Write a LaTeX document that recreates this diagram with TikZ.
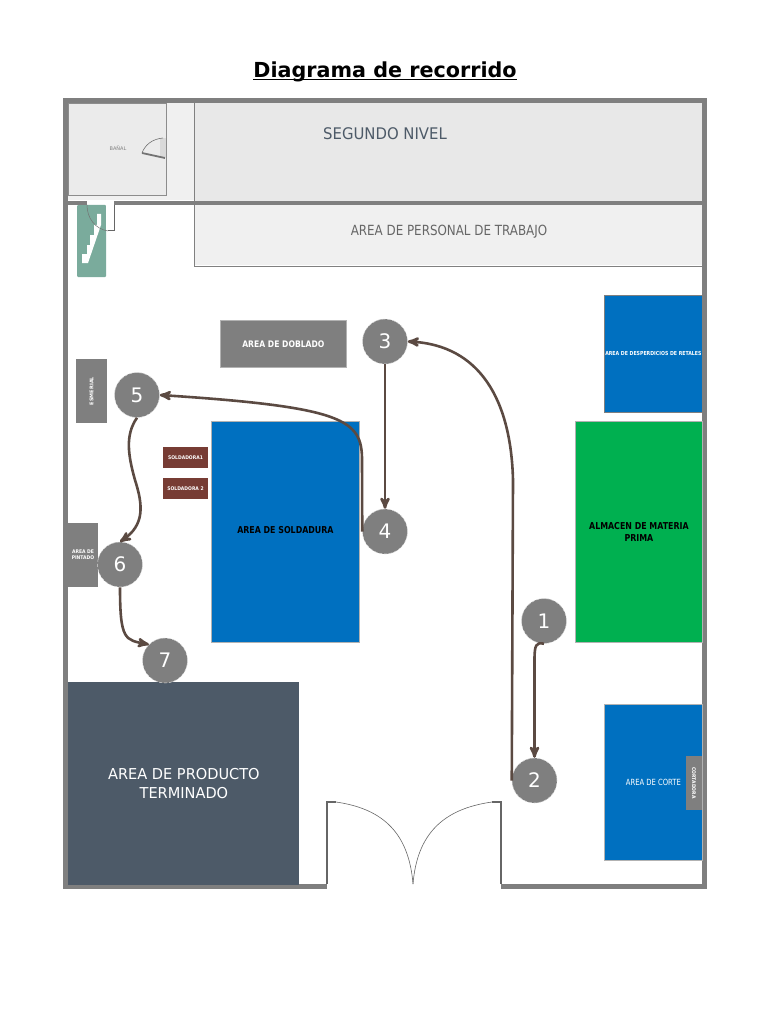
\documentclass[tikz,border=0pt]{standalone}
\usepackage{fontspec}
\setmainfont{DejaVu Sans}
\usetikzlibrary{ arrows, calc, positioning }
\definecolor{wallgray}{HTML}{7F7F7F}
\definecolor{roomblue}{HTML}{0070C0}
\definecolor{roomgreen}{HTML}{00B050}
\definecolor{slategray}{HTML}{4D5A68}
\definecolor{pathbrown}{HTML}{5B4A42}
\definecolor{weldbrown}{HTML}{773C34}
\definecolor{stairgreen}{HTML}{7AAB9C}
\tikzset{
>=stealth', % bold arrow heads
every node/.style={inner sep=1pt, align=center},
wall/.style={fill=wallgray, draw=none},
room/.style={draw=wallgray, line width=0.8pt, anchor=north west},
stop/.style={circle, fill=wallgray, draw=white!85!black, densely dashed, line width=0.5pt, minimum size=45pt, text=white, font=\fontsize{20}{20}\selectfont},
route/.style={->, draw=pathbrown, line width=2.6pt},
machine/.style={fill=wallgray, draw=none, text=white},
small/.style={font=\fontsize{5}{6}\selectfont\bfseries, text=white},
}
\newcommand{\squeezed}[2]{\scalebox{#1}[1]{#2}}
\begin{document}
\begin{tikzpicture}[x=1pt,y=-1pt]
  \useasboundingbox (0,0) rectangle (768,1024);

  \node[anchor=base] (title) at (385,78) {\fontsize{20.7}{24}\selectfont\textbf{\underline{\smash{Diagrama de recorrido}}}};

  % upper floor
  \fill[black!6] (68,103) rectangle (702,200);
  \fill[black!9] (194,103) rectangle (702,201);
  \node[room, fill=black!8, minimum width=98pt, minimum height=92pt, inner sep=0pt, draw=black!45] (bath) at (68,103) {};
  \node[font=\fontsize{5}{6}\selectfont, text=black!50] (bathlabel) at (118,148) {BAÑAL};
  \draw[black!50, line width=0.8pt] (194,103) -- (194,266) -- (702,266);
  \fill[black!6] (195,205) rectangle (702,265);
  \node[text=slategray] (upper) at (385,134) {\fontsize{16}{18}\selectfont\squeezed{0.93}{SEGUNDO NIVEL}};
  \node[text=black!60] (staff) at (449,232) {\fontsize{14}{16}\selectfont\squeezed{0.85}{AREA DE PERSONAL DE TRABAJO}};

  % small door upstairs
  \fill[black!15] (160,138) rectangle (166,157);
  \draw[black!55, line width=0.6pt] (163,138) .. controls (152,139) and (145,145) .. (142,153);
  \draw[black!55, line width=1.8pt] (142,153) -- (165,158);

  % stairs
  \fill[stairgreen, rounded corners=1pt] (77,205) rectangle (106,277);
  \fill[white] (97,214) -- (101,214) -- (101,225) -- (88,263) -- (82,263) -- (82,254) -- (87,254) -- (87,245) -- (90,245) -- (90,235) -- (94,235) -- (94,225) -- (97,225) -- cycle;
  \fill[white] (106,205) rectangle (114,231);
  \draw[black!55, line width=0.5pt] (87,205) .. controls (87,218) and (95,229) .. (108,231);
  \draw[black!60, line width=1pt] (108,231) -- (114,231) -- (114,204);

  % outer walls
  \fill[wall] (63,98) rectangle (707,103);
  \fill[wall] (63,98) rectangle (68,889);
  \fill[wall] (702,98) rectangle (707,889);
  \fill[wall] (63,884) rectangle (327,889);
  \fill[wall] (501,884) rectangle (707,889);
  \fill[wall] (63,201) rectangle (87,205);
  \fill[wall] (114,201) rectangle (702,205);

  % main door
  \draw[black!60, line width=1.2pt] (327,884) -- (327,802) -- (336,802);
  \draw[black!60, line width=1.2pt] (501,884) -- (501,802) -- (492,802);
  \draw[black!60, line width=0.6pt] (336,802) .. controls (385,809) and (409,835) .. (413,884);
  \draw[black!60, line width=0.6pt] (492,802) .. controls (442,809) and (417,835) .. (413,884);

  % areas
  \node[room, fill=wallgray, draw=black!30, minimum width=126pt, minimum height=47pt, inner sep=0pt, text=white] (bend) at (220,320) {\fontsize{9}{10}\selectfont\bfseries\squeezed{0.85}{AREA DE DOBLADO}};
  \node[room, fill=roomblue, minimum width=98pt, minimum height=117pt, inner sep=0pt, text=white] (scrap) at (604,295) {\fontsize{5.5}{6}\selectfont\bfseries\squeezed{0.85}{AREA DE DESPERDICIOS DE RETALES}};
  \node[room, fill=roomgreen, draw=black!30, minimum width=127pt, minimum height=221pt, inner sep=0pt, font=\fontsize{9.5}{12.5}\selectfont\bfseries] (stock) at (575,421) {\squeezed{0.83}{ALMACEN DE MATERIA}\\\squeezed{0.83}{PRIMA}};
  \node[room, fill=roomblue, draw=black!30, minimum width=148pt, minimum height=221pt, inner sep=0pt] (weld) at (211,421) {\raisebox{3pt}{\fontsize{9.5}{10}\selectfont\bfseries\squeezed{0.83}{AREA DE SOLDADURA}}};
  \node[room, fill=roomblue, draw=black!30, minimum width=98pt, minimum height=156pt, inner sep=0pt, text=white] (cut) at (604,704) {\raisebox{1pt}{\fontsize{8.5}{10}\selectfont\squeezed{0.8}{AREA DE CORTE}}};
  \node[room, fill=slategray, draw=none, minimum width=231pt, minimum height=203pt, inner sep=0pt, text=white, font=\fontsize{15}{19}\selectfont] (finished) at (68,682) {\squeezed{0.97}{AREA DE PRODUCTO}\\\squeezed{0.97}{TERMINADO}};

  % machines
  \node[machine, minimum width=31pt, minimum height=64pt, inner sep=0pt] (grinder) at (91.5,391) {\rotatebox{90}{\fontsize{5}{6}\selectfont\bfseries ESMERIAL}};
  \node[machine, small, fill=weldbrown, minimum width=45pt, minimum height=21pt, inner sep=0pt] (welder1) at (185.5,457.5) {\squeezed{0.9}{SOLDADORA1}};
  \node[machine, small, fill=weldbrown, minimum width=45pt, minimum height=21pt, inner sep=0pt] (welder2) at (185.5,488.5) {\squeezed{0.9}{SOLDADORA 2}};
  \node[machine, small, minimum width=30pt, minimum height=64pt, inner sep=0pt] (paint) at (83,555) {\squeezed{0.9}{AREA DE}\\\squeezed{0.9}{PINTADO}};
  \node[machine, minimum width=16pt, minimum height=54pt, inner sep=0pt] (cutter) at (694,783) {\rotatebox{-90}{\fontsize{5}{6}\selectfont\bfseries\squeezed{0.9}{CORTADORA}}};

  % stops
  \node[stop] (s1) at (544,621) {1};
  \node[stop] (s2) at (534.5,780.5) {2};
  \node[stop] (s3) at (385,341.5) {3};
  \node[stop] (s4) at (385,531.5) {4};
  \node[stop] (s5) at (137,395) {5};
  \node[stop] (s6) at (120,564.5) {6};
  \node[stop] (s7) at (165,660.5) {7};

  \draw[route] (s1.south) .. controls (536,642) and (534.5,645) .. (534.5,660) -- (s2.north);
  \draw[route] (s2.west) -- (513,480) .. controls (511,400) and (480,345) .. (s3.east);
  \draw[route] (s3.south) -- (s4.north);
  \draw[route] (s4.west) -- (362,460) .. controls (362,420) and (345,407) .. (s5.east);
  \draw[route] (s5.south) .. controls (125,435) and (128,455) .. (135,480) .. controls (143,505) and (145,525) .. (s6.north);
  \draw[route] (s6.south) .. controls (120,640) and (125,640) .. (s7.north west);
\end{tikzpicture}
\end{document}
